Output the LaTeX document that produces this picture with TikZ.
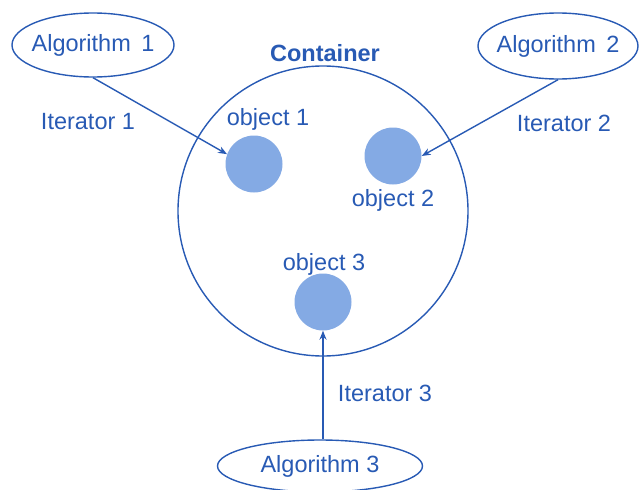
\documentclass[tikz,border=0pt]{standalone}
\usepackage{fontspec}
\setmainfont{Liberation Sans}
\usetikzlibrary{shapes.geometric,arrows.meta}
\definecolor{ink}{RGB}{40,90,180}
\definecolor{objfill}{RGB}{132,170,228}
\tikzset{
  alg/.style={ellipse,draw=ink,line width=1.4pt,inner xsep=-14pt,inner ysep=0pt,text=ink,font=\fontsize{23.5}{27}\selectfont},
  obj/.style={circle,fill=objfill,draw=none,minimum size=57pt,inner sep=0pt},
  lbl/.style={text=ink,font=\fontsize{23.5}{27}\selectfont,inner sep=0pt},
  arr/.style={draw=ink,line width=1.4pt,-{Stealth[length=9pt,width=7pt]}}
}
\begin{document}
\begin{tikzpicture}[x=1pt,y=-1pt]
\useasboundingbox (0,0) rectangle (641,490);
\node[circle,draw=ink,line width=1.4pt,minimum size=290pt,inner sep=0pt] (cont) at (323,211) {};
\node[lbl,font=\fontsize{23.5}{27}\selectfont\bfseries] (ctitle) at (325,53) {Container};
\node[obj] (obj1) at (254,164) {};
\node[obj] (obj2) at (393,156) {};
\node[obj] (obj3) at (323,302) {};
\node[lbl] (o1) at (268,119) {object 1};
\node[lbl] (o2) at (393,200) {object 2};
\node[lbl] (o3) at (324,264) {object 3};
\node[alg,minimum width=162pt,minimum height=64pt] (alg1) at (93,45) {Algorithm\, 1};
\node[alg,minimum width=160pt,minimum height=66pt] (alg2) at (558,46) {Algorithm\, 2};
\node[alg,minimum width=205pt,minimum height=52pt] (alg3) at (320,466) {Algorithm 3};
\node[lbl] (it1) at (88,122) {Iterator 1};
\node[lbl] (it2) at (564,123) {Iterator 2};
\node[lbl] (it3) at (385,393) {Iterator 3};
\draw[arr] (alg1.south) -- (obj1.160);
\draw[arr] (alg2.south) -- (obj2.east);
\draw[arr] (alg3.north -| obj3.south) -- (obj3.south);
\end{tikzpicture}
\end{document}
